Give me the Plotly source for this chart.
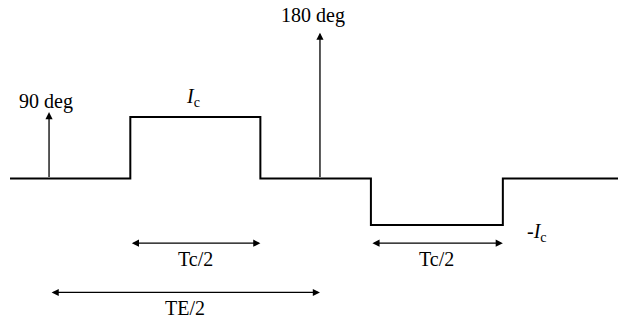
import plotly.graph_objects as go

# Gradient waveform: time (arbitrary units, 90 deg pulse at t=0, TE/2 = 10) and level (units of Ic)
wave_t = [-1.44, 3.0, 3.0, 7.8, 7.8, 11.88, 11.88, 16.75, 16.75, 21.0]
wave_level = [0, 0, 1, 1, 0, 0, -0.756, -0.756, 0, 0]

# RF pulses: time, arrow height, label
rf_t = [0.0, 10.0]
rf_height = [1.08, 2.37]
rf_labels = ["90 deg", "180 deg"]

# Interval markers: start, end, level, label
span_start = [3.0, 11.88, 0.04]
span_end = [7.8, 16.75, 10.0]
span_level = [-1.05, -1.05, -1.85]
span_labels = ["Tc/2", "Tc/2", "TE/2"]

FONT = dict(family="Liberation Serif, Times New Roman, serif", size=20, color="black")

fig = go.Figure()
fig.add_trace(go.Scatter(x=wave_t, y=wave_level, mode="lines",
                         line=dict(color="black", width=2), hoverinfo="skip"))

annotations = []
# RF pulse arrows
for t, h, lab in zip(rf_t, rf_height, rf_labels):
    annotations.append(dict(x=t, y=h, ax=t, ay=0, xref="x", yref="y", axref="x", ayref="y",
                            showarrow=True, arrowhead=2, arrowsize=1.1, arrowwidth=1.3,
                            arrowcolor="black", text=""))
annotations.append(dict(x=-0.1, y=1.25, text=rf_labels[0], showarrow=False, font=FONT))
annotations.append(dict(x=9.75, y=2.65, text=rf_labels[1], showarrow=False, font=FONT))

# Amplitude labels
annotations.append(dict(x=5.32, y=1.32, text="<i>I</i><sub>c</sub>", showarrow=False, font=FONT))
annotations.append(dict(x=18.02, y=-0.88, text="-<i>I</i><sub>c</sub>", showarrow=False, font=FONT))

# Interval arrows with labels below
for s, e, lv, lab in zip(span_start, span_end, span_level, span_labels):
    annotations.append(dict(x=e, y=lv, ax=s, ay=lv, xref="x", yref="y", axref="x", ayref="y",
                            showarrow=True, arrowhead=2, startarrowhead=2, arrowside="end+start",
                            arrowsize=1.1, startarrowsize=1.1, arrowwidth=1.3,
                            arrowcolor="black", text=""))
    annotations.append(dict(x=(s + e) / 2, y=lv - 0.25, text=lab, showarrow=False, font=FONT))

fig.update_layout(
    width=618, height=322,
    margin=dict(l=0, r=0, t=0, b=0),
    plot_bgcolor="white", paper_bgcolor="white",
    showlegend=False,
    xaxis=dict(range=[-1.81, 21.0], visible=False, fixedrange=True),
    yaxis=dict(range=[-2.33, 2.90], visible=False, fixedrange=True),
    annotations=annotations,
)

fig.write_html("out.html")
